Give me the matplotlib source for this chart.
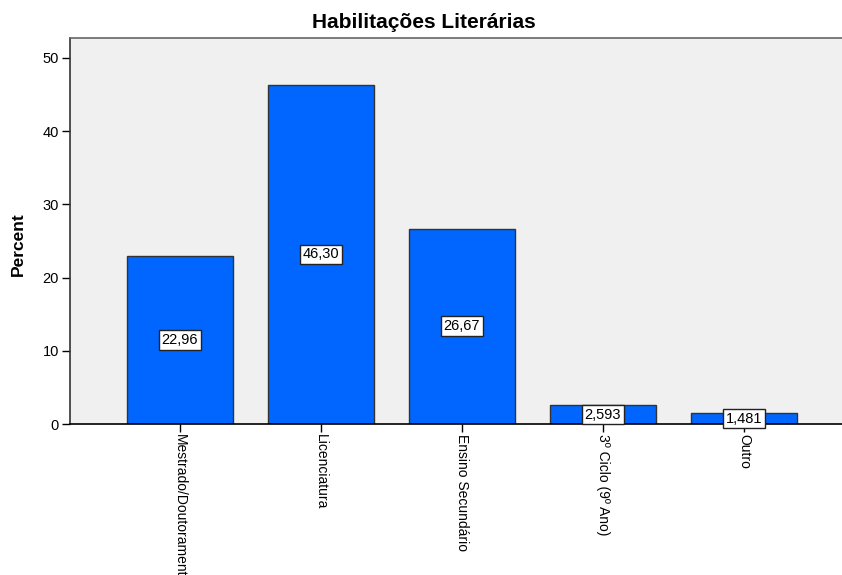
import matplotlib
matplotlib.use("Agg")
import matplotlib.pyplot as plt

categories = ["Mestrado/Doutoramento", "Licenciatura", "Ensino Secundário",
              "3º Ciclo (9º Ano)", "Outro"]
percent = [22.96, 46.30, 26.67, 2.593, 1.481]
value_labels = ["22,96", "46,30", "26,67", "2,593", "1,481"]
y_ticks = [0, 10, 20, 30, 40, 50]

plt.rcParams["font.family"] = ["Liberation Sans", "DejaVu Sans"]

fig = plt.figure(figsize=(8.42, 5.75), dpi=100)
ax = fig.add_axes([70 / 842, 1 - 424 / 575, (842 - 70) / 842, (424 - 38) / 575])
ax.set_facecolor("#f0f0f0")

x = list(range(len(categories)))
ax.bar(x, percent, width=0.745, color="#0066ff", edgecolor="#333333",
       linewidth=1.0, zorder=2)

for xi, v, lab in zip(x, percent, value_labels):
    ax.text(xi, v / 2, lab, ha="center", va="center", fontsize=10.5, zorder=4,
            bbox=dict(boxstyle="square,pad=0.2", facecolor="white",
                      edgecolor="#222222", linewidth=1.0))

ax.set_xlim(-0.78, 4.695)
ax.set_ylim(0, 52.7)
ax.set_yticks(y_ticks)
ax.set_yticklabels([str(t) for t in y_ticks], fontsize=10.5, color="#222222")
ax.set_xticks(x)
ax.set_xticklabels(categories, rotation=270, fontsize=10, ha="center", va="top")
ax.tick_params(axis="x", direction="out", length=6, width=1, pad=1, colors="black")
ax.tick_params(axis="y", direction="out", length=6, width=1, pad=2, colors="black")

ax.spines["right"].set_visible(False)
ax.spines["top"].set_color("#666666")
ax.spines["left"].set_color("#333333")
ax.spines["bottom"].set_color("black")
for s in ax.spines.values():
    s.set_linewidth(1.2)

ax.set_ylabel("Percent", fontsize=12.5, fontweight="bold")
ax.yaxis.set_label_coords(-0.057, 0.467)
fig.text(424 / 842, 1 - 22 / 575, "Habilitações Literárias",
         ha="center", va="center", fontsize=15, fontweight="bold")

fig.savefig("out.png", dpi=100)
